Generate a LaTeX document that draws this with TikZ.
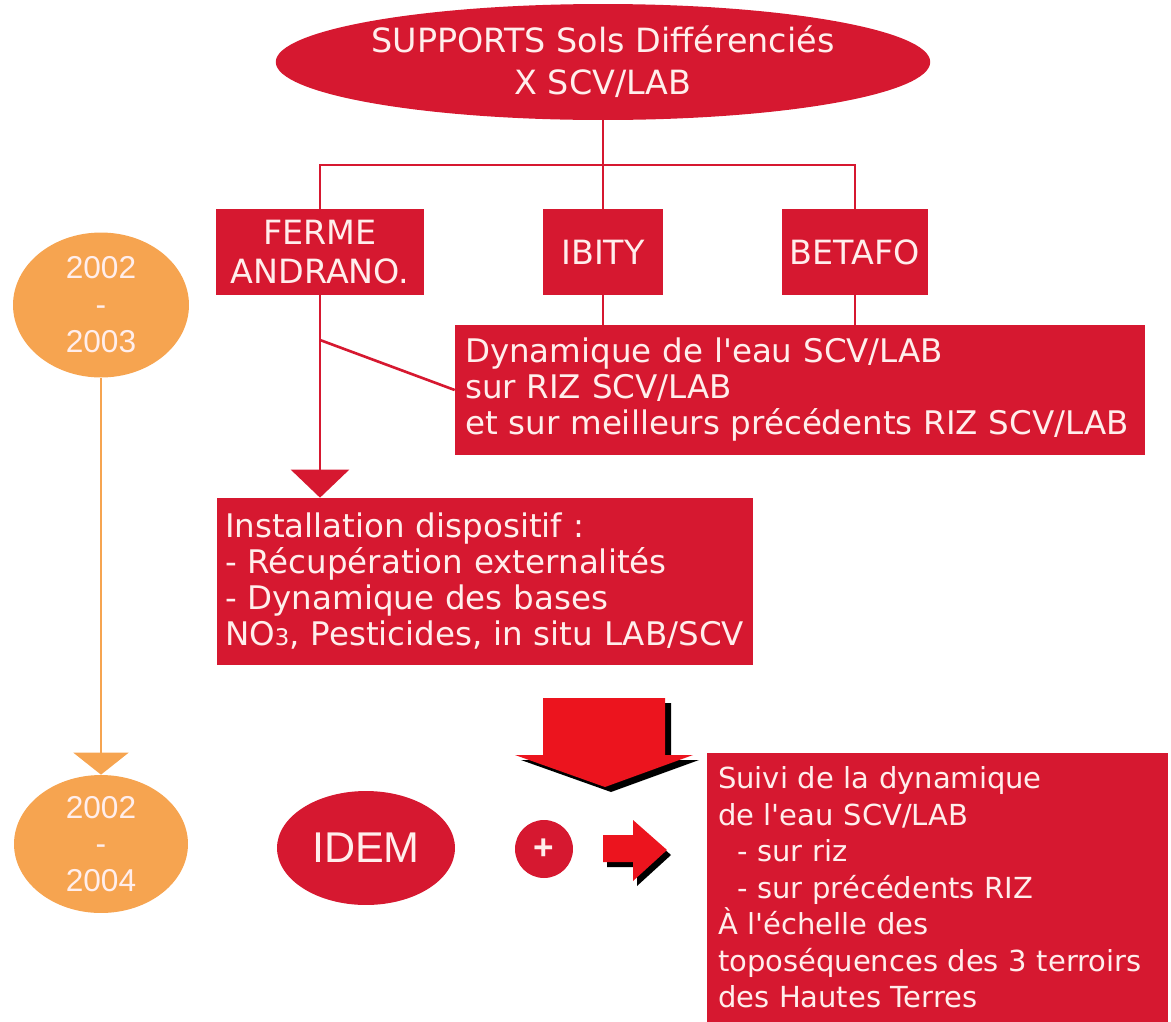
\documentclass[tikz,border=0pt]{standalone}
\usepackage{fontspec}
\setmainfont{DejaVu Sans}[Ligatures=TeXOff]
\newfontfamily\arialfont{Liberation Sans}
\usetikzlibrary{shapes.geometric, arrows.meta}
\definecolor{boxred}{RGB}{214,24,48}
\definecolor{arrowred}{RGB}{236,20,30}
\definecolor{yearorange}{RGB}{246,164,80}
\definecolor{paletext}{RGB}{255,238,236}

\begin{document}
\begin{tikzpicture}[x=0.02cm, y=-0.02cm,
    every node/.style={font=\fontsize{18.5}{20.5}\selectfont, text=paletext},
    sitebox/.style={fill=boxred, minimum height=1.72cm, align=center, inner sep=0pt,
      font=\fontsize{19}{22}\selectfont},
    textbox/.style={fill=boxred, align=left, inner ysep=0pt},
    yearball/.style={ellipse, fill=yearorange, inner sep=0pt, align=center,
      font=\arialfont\fontsize{18}{21}\selectfont},
    link/.style={draw=boxred, line width=1.5pt}]
  \useasboundingbox (0,0) rectangle (1171,1022);
  % Ellipse du haut
  \node[ellipse, fill=boxred, minimum width=12cm, minimum height=2.32cm, inner sep=0pt,
    align=center, font=\fontsize{19}{24}\selectfont] (top) at (603,62)
    {SUPPORTS Sols Différenciés\\X SCV/LAB};
  % Sites
  \foreach \n/\x/\w/\t in {ferme/320/4.18cm/{FERME\\ANDRANO.}, ibity/603/2.4cm/IBITY, betafo/855/2.92cm/BETAFO} {
    \node[sitebox, minimum width=\w] (\n) at (\x,252) {\t};
  }
  % Boites de texte
  \node[textbox, minimum width=13.8cm, minimum height=2.6cm, text width=13.4cm] (dyn) at (800,390)
    {Dynamique de l'eau SCV/LAB\\sur RIZ SCV/LAB\\et sur meilleurs précédents RIZ SCV/LAB};
  \node[textbox, minimum width=10.72cm, minimum height=3.34cm, inner xsep=0.16cm, text width=10.4cm] (inst) at (485,581.5)
    {Installation dispositif :\\- Récupération externalités\\- Dynamique des bases\\NO{\fontsize{13}{13}\selectfont 3}, Pesticides, in situ LAB/SCV};
  \node[textbox, minimum width=9.22cm, minimum height=5.38cm, inner xsep=0.22cm, text width=8.78cm,
    font=\fontsize{16.5}{20.8}\selectfont] (suivi) at (937.5,887.5)
    {Suivi de la dynamique\\de l'eau SCV/LAB\\\ \ - sur riz\\\ \ - sur précédents RIZ\\À l'échelle des\\toposéquences des 3 terroirs\\des Hautes Terres};
  % Annees
  \node[yearball, minimum width=3.52cm, minimum height=2.9cm] (y1) at (101,305) {2002\\-\\2003};
  \node[yearball, minimum width=3.48cm, minimum height=2.76cm] (y2) at (101,844) {2002\\-\\2004};
  % Ligne 2
  \node[ellipse, fill=boxred, minimum width=3.56cm, minimum height=2.28cm, inner sep=0pt,
    font=\arialfont\fontsize{24.5}{24.5}\selectfont] (idem) at (366,848) {IDEM};
  \node[circle, fill=boxred, minimum size=1.16cm, inner sep=0pt,
    font=\arialfont\bfseries\fontsize{20}{20}\selectfont] (plus) at (544,849) {+};
  % Liens
  \coordinate (hbar) at (603,165);
  \coordinate (fork) at (320,340);
  \draw[link] (top.south) -- (hbar);
  \draw[link] (ferme.north) |- (betafo.north |- hbar) -- (betafo.north);
  \draw[link] (hbar) -- (ibity.north);
  \draw[link] (ibity.south) -- (ibity.south |- dyn.north);
  \draw[link] (betafo.south) -- (betafo.south |- dyn.north);
  \draw[link] (fork) -- (dyn.west);
  \draw[link, -{Triangle[width=1.16cm, length=0.56cm]}, fill=boxred] (ferme.south) -- (inst.north -| ferme.south);
  \draw[draw=yearorange, line width=1.2pt, -{Triangle[width=1.1cm, length=0.44cm]}, fill=yearorange] (y1.south) -- (y2.north);
  % Grosses fleches
  \foreach \c/\dx/\dy in {black/6/5, arrowred/0/0}
    \fill[\c, shift={(\dx,\dy)}] (543,698) -- (665,698) -- (665,755) -- (693,755) -- (605,787) -- (515,755) -- (543,755) -- cycle;
  \foreach \c/\dx/\dy in {black/4/5, arrowred/0/0}
    \fill[\c, shift={(\dx,\dy)}] (603,835) -- (633,835) -- (633,820) -- (667,850) -- (633,881) -- (633,862) -- (603,862) -- cycle;
\end{tikzpicture}
\end{document}
